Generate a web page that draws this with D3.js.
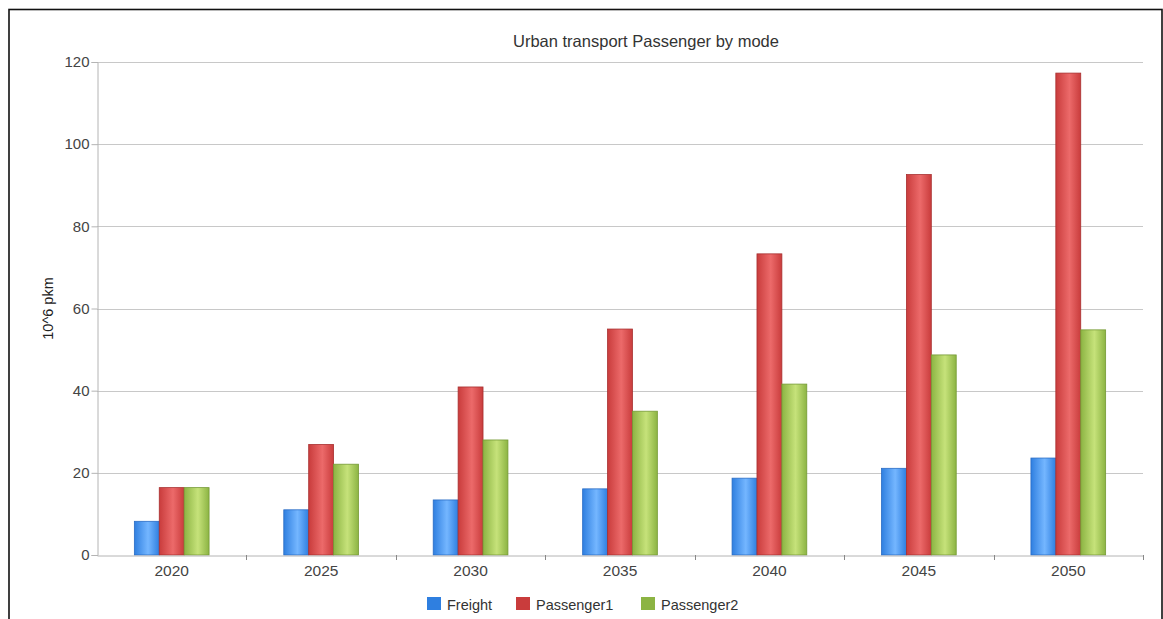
<!DOCTYPE html>
<html>
<head>
<meta charset="utf-8">
<script src="https://cdn.jsdelivr.net/npm/d3@7"></script>
<style>
  html, body { margin: 0; padding: 0; background: #fff; }
  svg { display: block; font-family: "Liberation Sans", Arial, sans-serif; }
</style>
</head>
<body>
<svg id="chart" width="1163" height="619"></svg>
<script>
// Passenger-km by transport mode, per milestone year
const years = ["2020", "2025", "2030", "2035", "2040", "2045", "2050"];
const seriesNames = ["Freight", "Passenger1", "Passenger2"];
const freight    = [8.2, 11.0, 13.4, 16.1, 18.7, 21.1, 23.6];
const passenger1 = [16.4, 26.9, 40.9, 55.0, 73.3, 92.6, 117.3];
const passenger2 = [16.4, 22.1, 28.0, 35.0, 41.6, 48.7, 54.8];
const yTicks = [0, 20, 40, 60, 80, 100, 120];

const values = [freight, passenger1, passenger2];
const palette = [
  { base: "#2f7fe0", light: "#74b6ff", edge: "#2a6cc4" },
  { base: "#c93c3c", light: "#ec6a6a", edge: "#a83030" },
  { base: "#8cb443", light: "#c6e27a", edge: "#759a35" }
];

const svg = d3.select("#chart");
const m = { left: 97, right: 1143, top: 62, bottom: 555 };

// outer frame
svg.append("rect")
  .attr("x", 9).attr("y", 9.5)
  .attr("width", 1153).attr("height", 640)
  .attr("fill", "none").attr("stroke", "#111").attr("stroke-width", 1.6);

// bar gradients: dark edges, bright centre
const defs = svg.append("defs");
palette.forEach((c, i) => {
  const g = defs.append("linearGradient")
    .attr("id", "grad" + i).attr("x1", "0%").attr("x2", "100%").attr("y1", "0%").attr("y2", "0%");
  g.append("stop").attr("offset", "0%").attr("stop-color", c.base);
  g.append("stop").attr("offset", "55%").attr("stop-color", c.light);
  g.append("stop").attr("offset", "100%").attr("stop-color", c.base);
});

const x = d3.scaleBand().domain(years).range([m.left, m.right]).paddingInner(0).paddingOuter(0);
const inner = d3.scaleBand().domain(seriesNames)
  .range([0, x.bandwidth()]).paddingInner(0).paddingOuter(1.5);
const y = d3.scaleLinear().domain([0, 120]).range([m.bottom, m.top]);

// horizontal grid
svg.append("g").selectAll("line").data(yTicks.filter(d => d > 0)).join("line")
  .attr("x1", m.left).attr("x2", m.right)
  .attr("y1", d => Math.round(y(d)) + 0.5).attr("y2", d => Math.round(y(d)) + 0.5)
  .attr("stroke", "#c8c8c8").attr("stroke-width", 1);

// y axis
const yAxis = svg.append("g")
  .attr("transform", `translate(${m.left + 0.5},0)`)
  .call(d3.axisLeft(y).tickValues(yTicks).tickSize(6).tickPadding(2).tickFormat(d3.format("d")));
yAxis.select(".domain").attr("stroke", "#b4b4b4");
yAxis.selectAll(".tick line").attr("stroke", "#b4b4b4");
yAxis.selectAll(".tick text").attr("fill", "#444").style("font-size", "15px");

// bars
years.forEach((yr, gi) => {
  seriesNames.forEach((s, si) => {
    const v = values[si][gi];
    svg.append("rect")
      .attr("x", x(yr) + inner(s))
      .attr("y", y(v))
      .attr("width", inner.bandwidth())
      .attr("height", y(0) - y(v))
      .attr("fill", `url(#grad${si})`)
      .attr("stroke", palette[si].edge).attr("stroke-width", 0.8);
  });
});

// x axis
const xAxis = svg.append("g")
  .attr("transform", `translate(0,${Math.round(m.bottom) + 0.5})`)
  .call(d3.axisBottom(x).tickSize(0).tickPadding(9));
xAxis.select(".domain").attr("stroke", "#b4b4b4");
xAxis.selectAll(".tick text").attr("fill", "#444").style("font-size", "15.5px");
// category separators
svg.append("g").selectAll("line").data(years.slice(1).concat(["end"])).join("line")
  .attr("x1", (d, i) => Math.round(m.left + x.step() * (i + 1)) + 0.5)
  .attr("x2", (d, i) => Math.round(m.left + x.step() * (i + 1)) + 0.5)
  .attr("y1", m.bottom).attr("y2", m.bottom + 5)
  .attr("stroke", "#888");

// title
svg.append("text")
  .attr("x", 646).attr("y", 47)
  .attr("text-anchor", "middle")
  .attr("fill", "#333").style("font-size", "16.5px")
  .text("Urban transport Passenger by mode");

// y axis title
svg.append("text")
  .attr("transform", `translate(53,${(m.top + m.bottom) / 2}) rotate(-90)`)
  .attr("text-anchor", "middle")
  .attr("fill", "#222").style("font-size", "14.5px")
  .text("10^6 pkm");

// legend
const legendX = [427, 516, 641];
const legend = svg.append("g");
seriesNames.forEach((s, i) => {
  legend.append("rect")
    .attr("x", legendX[i]).attr("y", 597)
    .attr("width", 14).attr("height", 13)
    .attr("fill", palette[i].base);
  legend.append("text")
    .attr("x", legendX[i] + 20).attr("y", 610)
    .attr("fill", "#333").style("font-size", "14.5px")
    .text(s);
});
</script>
</body>
</html>
